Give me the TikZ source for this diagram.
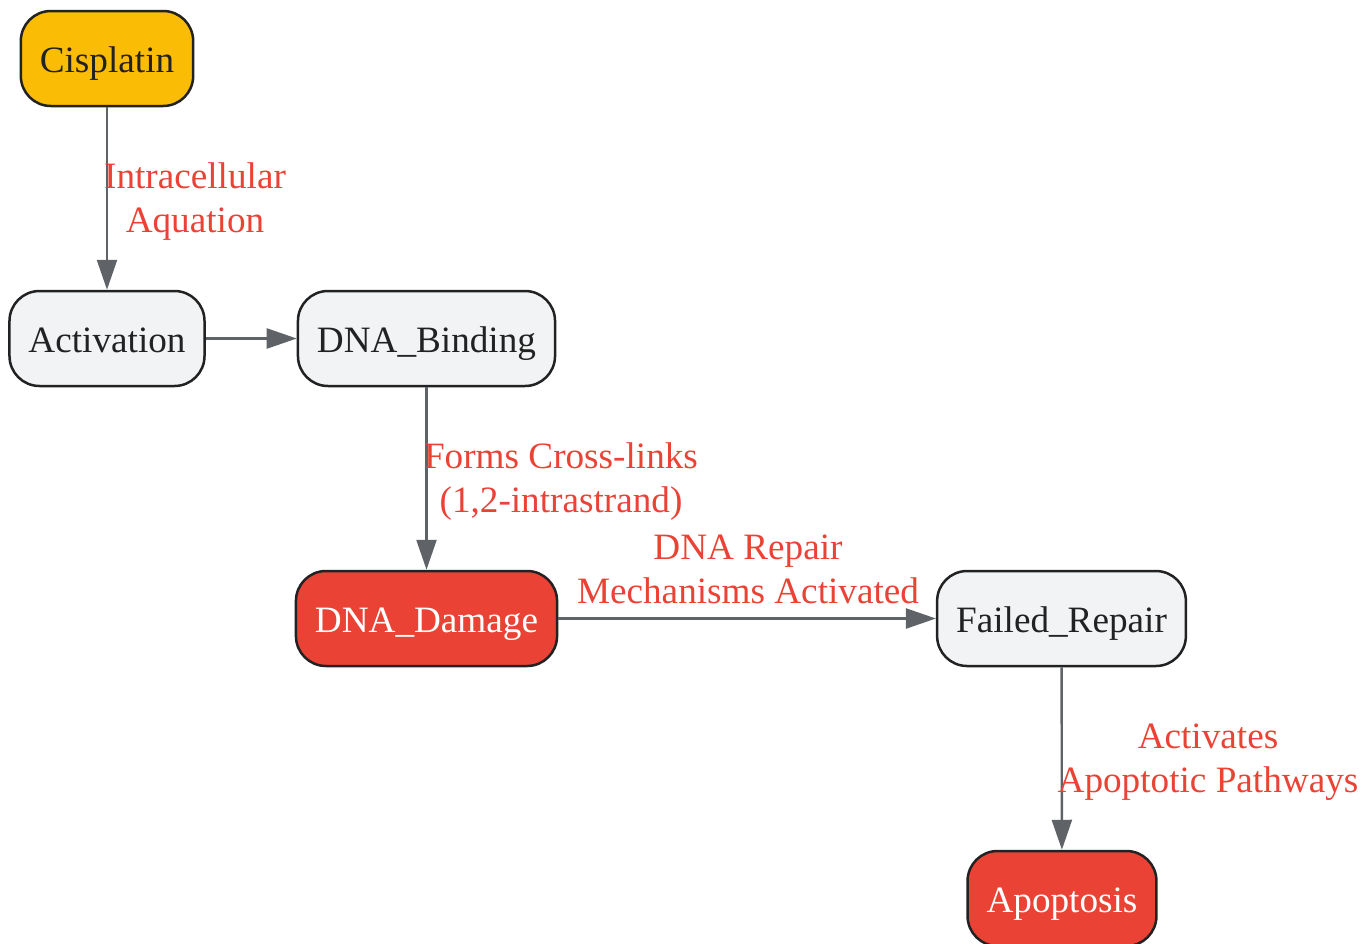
\documentclass[tikz,border=0pt]{standalone}
\usepackage{fontspec}
\setmainfont{Liberation Serif}
\usetikzlibrary{arrows.meta}

\definecolor{amber}{HTML}{FBBC05}
\definecolor{redbox}{HTML}{EA4335}
\definecolor{greybox}{HTML}{F1F3F5}
\definecolor{edgegrey}{HTML}{5F6368}
\definecolor{outline}{HTML}{222222}

\tikzset{
  box/.style={draw=outline,line width=1.25pt,rounded corners=15pt,minimum height=47.5pt,
    inner xsep=9.5pt,text height=13.5pt,text depth=0pt,fill=greybox,text=outline,
    font=\fontsize{18.6}{22}\selectfont},
  startbox/.style={box,fill=amber},
  alertbox/.style={box,fill=redbox,text=white},
  link/.style={draw=edgegrey,line width=1.2pt,-{Triangle[length=15pt,width=10pt]}},
  linklabel/.style={text=redbox,align=center,font=\fontsize{18.6}{22}\selectfont}
}

\begin{document}
\begin{tikzpicture}[x=0.5pt,y=-0.5pt]
    \useasboundingbox (0,0) rectangle (1371,943);

    \node[startbox] (cisplatin) at (107,58.5) {Cisplatin};
    \node[box] (activation) at (107,338.5) {Activation};
    \node[box] (binding) at (426.5,338.5) {DNA\_Binding};
    \node[alertbox] (damage) at (426.5,618.5) {DNA\_Damage};
    \node[box] (failed) at (1061.5,618.5) {Failed\_Repair};
    \node[alertbox] (apoptosis) at (1062,898.5) {Apoptosis};

    \draw[link] (cisplatin) -- (activation);
    \draw[link] (activation) -- (binding);
    \draw[link] (binding) -- (damage);
    \draw[link] (damage) -- (failed);
    \draw[link] (failed) -- (apoptosis);

    \node[linklabel] (lbl1) at (195,202) {Intracellular\\Aquation};
    \node[linklabel] (lbl2) at (561,482) {Forms Cross-links\\(1,2-intrastrand)};
    \node[linklabel] (lbl3) at (748,569) {DNA Repair\\Mechanisms Activated};
    \node[linklabel] (lbl4) at (1208,762) {Activates\\Apoptotic Pathways};
\end{tikzpicture}
\end{document}
